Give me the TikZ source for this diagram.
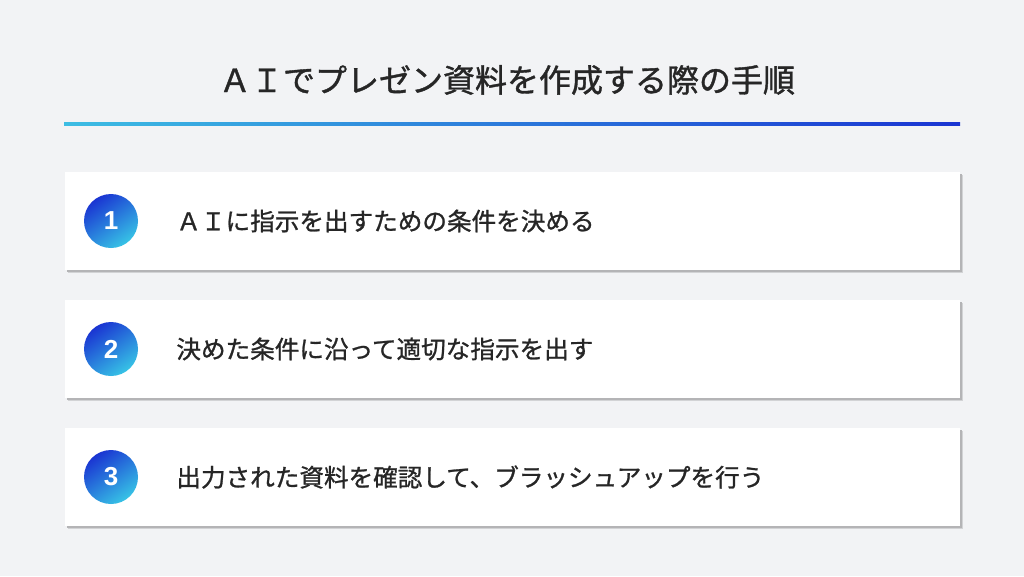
\documentclass[tikz,border=0pt]{standalone}
\usepackage{fontspec}
\newfontfamily\jpfont[FakeBold=1]{Noto Sans CJK JP}
\newfontfamily\titlefont[FakeBold=1.2]{Noto Sans CJK JP}
\newfontfamily\numfont{Liberation Sans}
\usetikzlibrary{positioning}
\definecolor{bgcol}{HTML}{F2F3F5}
\definecolor{inkcol}{HTML}{262626}
\definecolor{lightblue}{HTML}{3DBDE3}
\definecolor{deepblue}{HTML}{1A34D2}
\definecolor{shadowcol}{HTML}{B4B4B6}
\tikzset{
  card/.style={fill=white, minimum width=895pt, minimum height=98pt, inner sep=0pt},
  cardshadow/.style={fill=shadowcol, minimum width=895pt, minimum height=98pt, inner sep=0pt},
  numdot/.style={circle, minimum size=54pt, inner sep=0pt, top color=deepblue, bottom color=lightblue!90!cyan, shading angle=35, text=white, font=\numfont\bfseries\fontsize{26}{30}\selectfont},
  steptext/.style={inner sep=0pt, text=inkcol, font=\jpfont\fontsize{24.6}{30}\selectfont}
}
\begin{document}
\begin{tikzpicture}[x=1pt, y=-1pt]
  \useasboundingbox[fill=bgcol] (0,0) rectangle (1024,576);
  %%%%%%%%%%%%%%%%%%%%%%%%%%%%%%%%
  \node[text=inkcol, font=\titlefont\fontsize{32}{36}\selectfont] (title) at (507,80) {ＡＩでプレゼン資料を作成する際の手順};
  \shade[left color=lightblue, right color=deepblue] (64,122.5) rectangle (960,125.5);
  %%%%%%%%%%%%%%%%%%%%%%%%%%%%%%%%
  \foreach \i/\txt in {1/ＡＩに指示を出すための条件を決める, 2/決めた条件に沿って適切な指示を出す, 3/出力された資料を確認して、ブラッシュアップを行う}{
    \node[cardshadow, opacity=0.5] at (515,{221+(\i-1)*128+3}) {};
    \node[cardshadow] at (514.5,{221+(\i-1)*128+2}) {};
    \node[card] (card\i) at (512.5,{221+(\i-1)*128}) {};
    \node[numdot] (num\i) at (111,{221+(\i-1)*128}) {\i};
    \node[steptext, right=38pt of num\i] (label\i) {\txt};
  }
\end{tikzpicture}
\end{document}
